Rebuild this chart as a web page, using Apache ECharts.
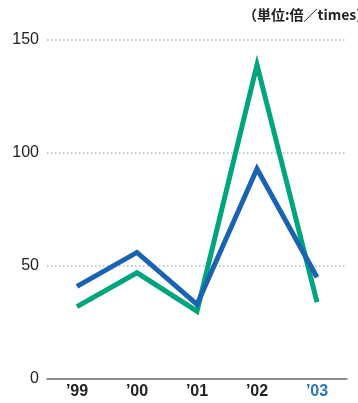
<!DOCTYPE html>
<html>
<head>
<meta charset="utf-8">
<script src="https://cdn.jsdelivr.net/npm/echarts@6/dist/echarts.min.js"></script>
<style>
  html, body { margin: 0; padding: 0; background: #fff; }
  #chart { width: 358px; height: 403px; }
</style>
</head>
<body>
<div id="chart"></div>
<script>
// 年度
const years = ['\u201999', '\u201900', '\u201901', '\u201902', '\u201903'];
// 2系列 (値は図から読み取り)
const blueValues = [41, 56, 33, 93, 45];
const greenValues = [32, 47, 30, 139, 34];
const yTicks = [0, 50, 100, 150];

const chart = echarts.init(document.getElementById('chart'));
chart.setOption({
    animation: false,
    grid: { left: 47, right: 11, top: 40, bottom: 24 },
    graphic: [{
        type: 'text',
        left: 243,
        top: 8,
        style: {
            text: '（単位:倍／times）',
            font: 'bold 14px "Noto Sans CJK JP", sans-serif',
            fill: '#222'
        }
    }],
    xAxis: {
        type: 'category',
        data: years,
        boundaryGap: true,
        axisLine: { lineStyle: { color: '#707070', width: 1.5 } },
        axisTick: { show: false },
        axisLabel: {
            margin: 5,
            fontFamily: '"Liberation Sans", Arial, sans-serif',
            fontWeight: 'bold',
            fontSize: 16,
            color: function (v, i) { return i === years.length - 1 ? '#2a74bd' : '#222'; }
        }
    },
    yAxis: {
        type: 'value',
        min: yTicks[0],
        max: yTicks[yTicks.length - 1],
        interval: 50,
        axisLine: { show: false },
        axisTick: { show: false },
        axisLabel: {
            margin: 8,
            fontFamily: '"Liberation Sans", Arial, sans-serif',
            fontSize: 16,
            color: '#222'
        },
        splitLine: {
            lineStyle: { color: '#a9b9c8', type: [1.5, 2.5], width: 1.5 }
        }
    },
    series: [
        {
            type: 'line',
            data: blueValues,
            symbol: 'none',
            lineStyle: { color: '#1a62b2', width: 5, join: 'miter' },
            z: 3
        },
        {
            type: 'line',
            data: greenValues,
            symbol: 'none',
            lineStyle: { color: '#00a57e', width: 5, join: 'miter' },
            z: 2
        }
    ]
});
</script>
</body>
</html>
